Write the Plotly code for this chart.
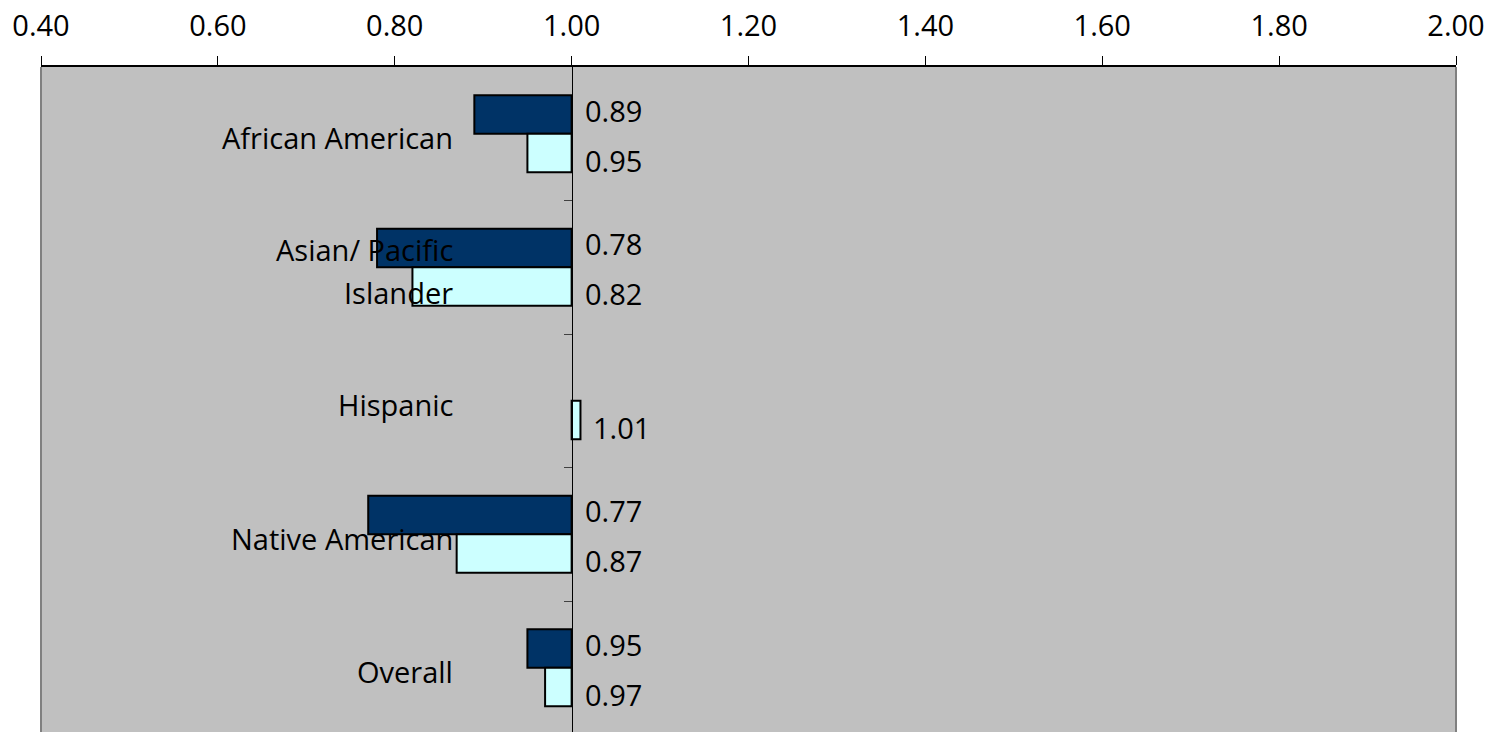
import plotly.graph_objects as go

# Rate ratios by group (reference value 1.00)
categories = ["African American", "Asian/ Pacific<br>Islander", "Hispanic",
              "Native American", "Overall"]
series_dark = [0.89, 0.78, None, 0.77, 0.95]
series_light = [0.95, 0.82, 1.01, 0.87, 0.97]
x_ticks = [0.40, 0.60, 0.80, 1.00, 1.20, 1.40, 1.60, 1.80, 2.00]

BASE = 1.0
FONT = "Open Sans"
FSIZE = 29
DARK = "#003366"
LIGHT = "#CCFFFF"
BG = "#C0C0C0"

ypos = list(range(len(categories)))

fig = go.Figure()
for vals, color in ((series_dark, DARK), (series_light, LIGHT)):
    fig.add_trace(go.Bar(
        y=ypos,
        x=[None if v is None else v - BASE for v in vals],
        base=BASE,
        orientation="h",
        marker=dict(color=color, line=dict(color="black", width=2)),
        hoverinfo="skip",
        showlegend=False,
    ))

# value labels to the right of the 1.00 axis
annotations = []
bar_shift = {0: 4, 1: -7}
for s, vals in enumerate((series_dark, series_light)):
    for i, v in enumerate(vals):
        if v is None:
            continue
        annotations.append(dict(
            x=max(v, BASE), y=i + (-0.145 if s == 0 else 0.145),
            xref="x", yref="y", text=f"{v:.2f}", showarrow=False,
            xanchor="left", yanchor="middle", xshift=11, yshift=bar_shift[s],
            font=dict(family=FONT, size=FSIZE, color="black"),
        ))

# category labels inside the plot area, right-aligned
label_x = 0.2926
for i, cat in enumerate(categories):
    lines = cat.split("<br>")
    n = len(lines)
    for k, line in enumerate(lines):
        offset = (k - (n - 1) / 2) * 43
        annotations.append(dict(
            x=label_x, y=i, xref="paper", yref="y", text=line,
            showarrow=False, xanchor="right", yanchor="middle",
            yshift=-4 - offset,
            font=dict(family=FONT, size=FSIZE, color="black"),
        ))

axis_pos = (BASE - x_ticks[0]) / (x_ticks[-1] - x_ticks[0])

fig.update_layout(
    width=1491, height=732,
    margin=dict(l=41, r=35, t=67, b=0),
    paper_bgcolor="white",
    plot_bgcolor=BG,
    barmode="group",
    bargap=0.423,
    bargroupgap=0,
    annotations=annotations,
    xaxis=dict(
        range=[x_ticks[0], x_ticks[-1]],
        tickvals=x_ticks,
        ticktext=[f"{t:.2f}" for t in x_ticks],
        side="top",
        ticks="outside", ticklen=9, tickcolor="black", tickwidth=1,
        showline=True, linecolor="black", linewidth=1.5,
        showgrid=False, zeroline=False,
        tickfont=dict(family=FONT, size=FSIZE, color="black"),
        ticklabelstandoff=9,
        fixedrange=True,
    ),
    yaxis=dict(
        range=[-0.5 + 665 / 133.5, -0.5],
        anchor="free", position=axis_pos,
        tickvals=[i + 0.5 for i in ypos[:-1]],
        showticklabels=False,
        ticks="outside", ticklen=8, tickcolor="#404040", tickwidth=1,
        showline=True, linecolor="black", linewidth=1,
        showgrid=False, zeroline=False,
        fixedrange=True,
    ),
    shapes=[
        dict(type="line", xref="paper", yref="paper", x0=0, x1=0, y0=0, y1=1,
             line=dict(color="#808080", width=2)),
        dict(type="line", xref="paper", yref="paper", x0=1, x1=1, y0=0, y1=1,
             line=dict(color="#808080", width=2)),
    ],
)

fig.write_html("out.html")
